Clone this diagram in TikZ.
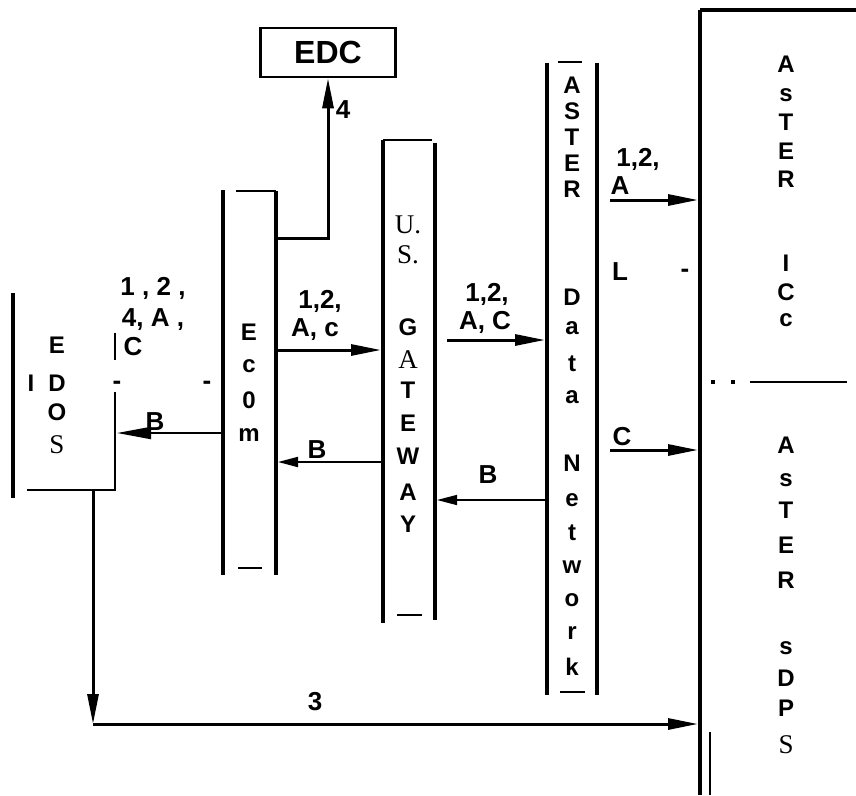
\documentclass[tikz,border=0pt]{standalone}
\usepackage{fontspec}
\setmainfont{Liberation Sans}
\newfontfamily\serifface{Liberation Serif}
\usetikzlibrary{arrows.meta}
\newcommand\serifch[1]{{\serifface\mdseries\fontsize{27}{27}\selectfont #1}}

\tikzset{
  wall/.style={line width=4.5pt},
  thinwall/.style={line width=2.5pt},
  flow/.style={line width=3pt, -{Triangle[length=30pt,width=11pt]}},
  back/.style={line width=2pt, -{Triangle[length=20pt,width=10pt]}},
  glyph/.style={font=\fontsize{24}{24}\selectfont\bfseries, inner sep=0pt},
  lbl/.style={font=\fontsize{26}{26}\selectfont\bfseries, inner sep=0pt},
}

\begin{document}
\begin{tikzpicture}[x=1pt,y=-1pt]
  \useasboundingbox (0,0) rectangle (856,795);

  % EDOS
  \draw[wall] (13,293) -- (13,498);
  \draw[thinwall] (115,392) -- (115,490) -- (27,490);
  \draw[thinwall] (115,333) -- (115,360);
  \node[glyph] (edosbar) at (31,383) {I};
  \foreach \t/\y [count=\i] in {E/345,D/383,O/412,\serifch{S}/445}
    \node[glyph] (edos\i) at (57,\y) {\t};

  % Ecom
  \draw[wall] (223,190) -- (223,575);
  \draw[thinwall] (236,191) -- (276,191);
  \draw[wall] (276,191) -- (276,575);
  \draw[thinwall] (238,568) -- (262,568);
  \foreach \t/\y [count=\i] in {E/332,c/366,0/400,m/435}
    \node[glyph] (ecom\i) at (249,\y) {\t};

  % EDC
  \node[draw, line width=2.5pt, minimum width=135pt, minimum height=49pt,
        inner sep=0pt, font=\fontsize{32}{32}\selectfont\bfseries]
        (edc) at (328,52.5) {EDC};

  % U.S. Gateway
  \draw[wall] (383,140) -- (383,623);
  \draw[thinwall] (383,140) -- (432,140);
  \draw[wall] (435,143) -- (435,620);
  \draw[thinwall] (397,615) -- (422,615);
  \foreach \t/\y [count=\i] in {\serifch{U.}/225,\serifch{S.}/255,G/327,\serifch{A}/360,
      T/390,E/423,W/456,A/492,Y/524}
    \node[glyph] (gw\i) at (408,\y) {\t};

  % ASTER Data Network
  \draw[wall] (547,63) -- (547,695);
  \draw[wall] (597,63) -- (597,695);
  \draw[thinwall] (558,62) -- (582,62);
  \draw[thinwall] (560,692) -- (585,692);
  \foreach \t/\y [count=\i] in {A/85,S/111,T/137,E/163,R/189,D/297,a/328,t/364,a/397,
      N/463,e/500,t/533,w/567,o/600,r/633,k/667}
    \node[glyph] (net\i) at (572,\y) {\t};

  % ASTER ICC / ASTER SDPS
  \draw[wall] (700,10) -- (700,795);
  \draw[wall] (700,10) -- (856,10);
  \draw[thinwall] (710,732) -- (710,795);
  \fill (711,380) rectangle (715,384);
  \fill (731,380) rectangle (735,384);
  \draw[line width=2pt] (750,382) -- (847,382);
  \foreach \t/\y [count=\i] in {A/64,s/95,T/122,E/151,R/179,I/263,C/292,c/320}
    \node[glyph] (icc\i) at (786,\y) {\t};
  \foreach \t/\y [count=\i] in {A/445,s/480,T/510,E/545,R/580,s/648,D/678,P/708,\serifch{S}/745}
    \node[glyph] (sdps\i) at (786,\y) {\t};

  % connector ends
  \coordinate (ecomTap) at (276,238);
  \coordinate (ecomOut) at (278,350);
  \coordinate (gwIn) at (381,350);
  \coordinate (gwBack) at (381,462);
  \coordinate (ecomBack) at (278,462);
  \coordinate (ecomLeft) at (221,433);
  \coordinate (edosIn) at (117,433);
  \coordinate (gwOut) at (447,340);
  \coordinate (netIn) at (545,340);
  \coordinate (netBack) at (545,500);
  \coordinate (gwBackIn) at (437,500);
  \coordinate (netOutA) at (610,200);
  \coordinate (iccIn) at (698,200);
  \coordinate (netOutC) at (610,450);
  \coordinate (sdpsIn) at (698,450);
  \coordinate (edosOut) at (93,490);
  \coordinate (bend) at (93,724);
  \coordinate (sdpsLow) at (698,724);

  % flows
  \draw[flow] (ecomTap) -| (edc);
  \draw[flow] (ecomOut) -- (gwIn);
  \draw[back] (gwBack) -- (ecomBack);
  \draw[back, -{Triangle[length=34pt,width=12pt]}] (ecomLeft) -- (edosIn);
  \draw[flow] (gwOut) -- (netIn);
  \draw[back, line width=1.5pt] (netBack) -- (gwBackIn);
  \draw[flow] (netOutA) -- (iccIn);
  \draw[flow] (netOutC) -- (sdpsIn);
  \draw[flow] (edosOut) -- (bend);
  \draw[flow] (bend) -- (sdpsLow);

  % labels
  \node[lbl] (l1) at (153,288) {1 , 2 ,};
  \node[lbl] (l2) at (153,320) {4, A ,};
  \node[lbl] (l3) at (133,347) {C};
  \node[lbl] (l4) at (155,422) {B};
  \node[lbl] (l5) at (117,385) {-};
  \node[lbl] (l6) at (207,385) {-};
  \node[lbl] (l7) at (343,110) {4};
  \node[lbl] (l8) at (320,301) {1,2,};
  \node[lbl] (l9) at (315,330) {A, c};
  \node[lbl] (l10) at (317,450) {B};
  \node[lbl] (l11) at (487,294) {1,2,};
  \node[lbl] (l12) at (485,322) {A, C};
  \node[lbl] (l13) at (488,475) {B};
  \node[lbl] (l14) at (638,159) {1,2,};
  \node[lbl] (l15) at (620,186) {A};
  \node[lbl] (l16) at (620,272) {L};
  \node[lbl] (l17) at (685,273) {-};
  \node[lbl] (l18) at (622,437) {C};
  \node[lbl] (l19) at (315,702) {3};
\end{tikzpicture}
\end{document}
